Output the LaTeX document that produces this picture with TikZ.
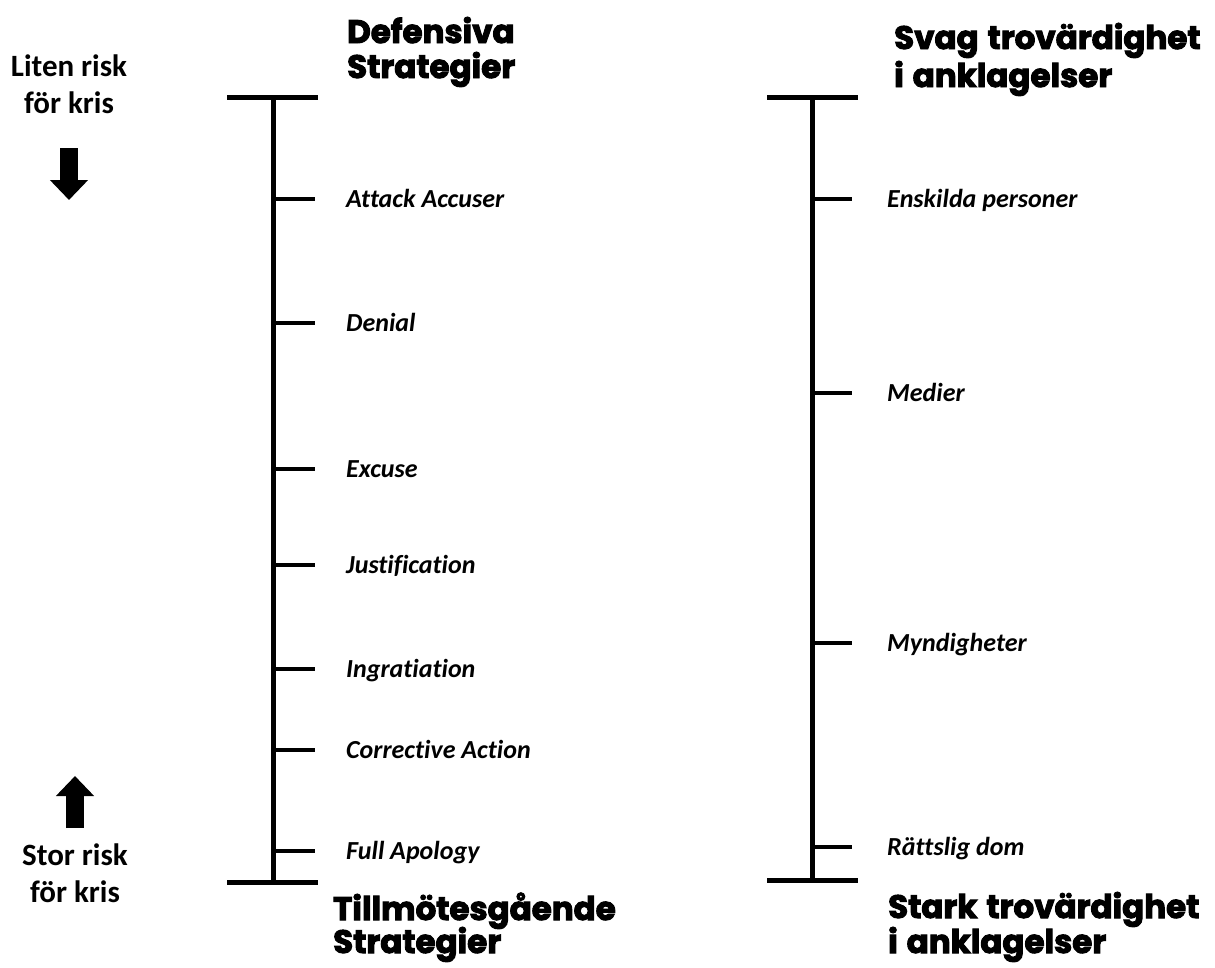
\documentclass[tikz,border=0pt]{standalone}
\usepackage{fontspec}
\setmainfont{Carlito}[Ligatures=NoCommon]
\newfontfamily\hfont{Poppins}[FakeBold=3,WordSpace=1.3]
\usetikzlibrary{arrows.meta}
\tikzset{
  axis/.style={line width=5pt},
  bar/.style={line width=5pt},
  tick/.style={line width=3.5pt},
  lbl/.style={anchor=base west, inner sep=0pt, font=\fontsize{26}{30}\selectfont\bfseries\itshape},
  side/.style={anchor=base, inner sep=0pt, font=\fontsize{31}{37}\selectfont\bfseries},
  head/.style={anchor=base west, inner sep=0pt, font=\fontsize{32.5}{37}\selectfont\hfont\bfseries},
  bigarrow/.style={line width=18pt, -{Triangle[length=20pt,width=37pt]}}
}
\begin{document}
\begin{tikzpicture}[x=1pt,y=-1pt]
\useasboundingbox (0,0) rectangle (1215,967);
% ---- left scale
\coordinate (LT) at (273,97);
\coordinate (LB) at (273,882);
\draw[axis] (LT) -- (LB);
\coordinate (LTa) at (227,97); \coordinate (LTb) at (318,97);
\coordinate (LBa) at (227,882); \coordinate (LBb) at (318,882);
\draw[bar] (LTa) -- (LTb);
\draw[bar] (LBa) -- (LBb);
\foreach \y/\t/\n in {199/Attack Accuser/a, 323/Denial/b, 469/Excuse/c, 565/Justification/d, 669/Ingratiation/e, 750/Corrective Action/f, 851/Full Apology/g}{
  \coordinate (lt\n) at (273,\y);
  \coordinate (le\n) at (315,\y);
  \draw[tick] (lt\n) -- (le\n);
  \node[lbl] (ll\n) at (346,\y+8) {\t};
}
% ---- right scale
\coordinate (RT) at (812,97);
\coordinate (RB) at (812,880);
\draw[axis] (RT) -- (RB);
\coordinate (RTa) at (767,97); \coordinate (RTb) at (858,97);
\coordinate (RBa) at (767,880); \coordinate (RBb) at (858,880);
\draw[bar] (RTa) -- (RTb);
\draw[bar] (RBa) -- (RBb);
\foreach \y/\t/\n in {199/Enskilda personer/a, 393/Medier/b, 643/Myndigheter/c, 847/Rättslig dom/d}{
  \coordinate (rt\n) at (812,\y);
  \coordinate (re\n) at (852,\y);
  \draw[tick] (rt\n) -- (re\n);
  \node[lbl] (rl\n) at (887,\y+8) {\t};
}
% ---- headers
\node[head] (h1a) at (347,43) {Defensiva};
\node[head] (h1b) at (347,78) {Strategier};
\node[head] (h2a) at (333,920) {Tillmötesgående};
\node[head] (h2b) at (333,953) {Strategier};
\node[head] (h3a) at (894,49) {Svag trovärdighet};
\node[head] (h3b) at (894,87) {i anklagelser};
\node[head] (h4a) at (888,918) {Stark trovärdighet};
\node[head] (h4b) at (888,953) {i anklagelser};
% ---- side labels
\node[side] (s1a) at (69,76) {Liten risk};
\node[side] (s1b) at (69,113) {för kris};
\node[side] (s2a) at (75,865) {Stor risk};
\node[side] (s2b) at (75,902) {för kris};
\coordinate (d1) at (69,148); \coordinate (d2) at (69,200);
\draw[bigarrow] (d1) -- (d2);
\coordinate (u1) at (75,828); \coordinate (u2) at (75,776);
\draw[bigarrow] (u1) -- (u2);
\end{tikzpicture}
\end{document}
